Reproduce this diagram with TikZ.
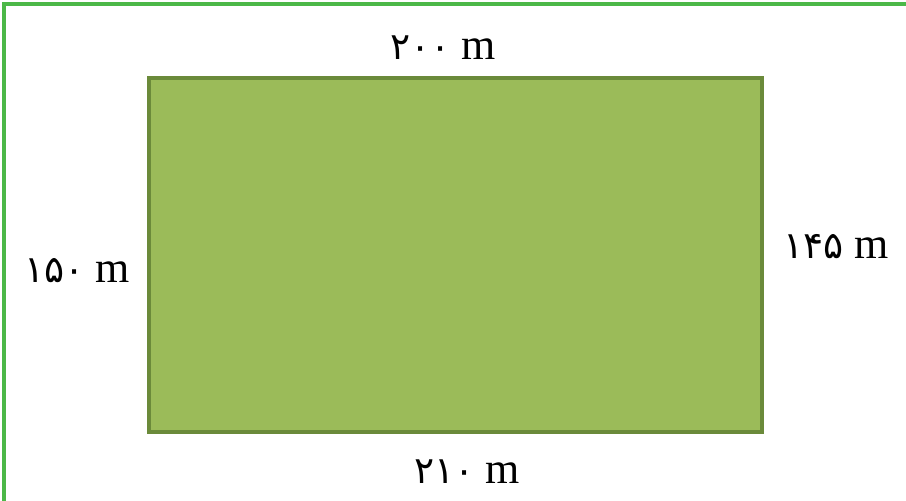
\documentclass[tikz,border=0pt]{standalone}
\usepackage{fontspec}
\setmainfont{Liberation Serif}
\newfontfamily\fadigits[Script=Arabic,Scale=0.85]{DejaVu Sans}
\definecolor{framegreen}{HTML}{4CB848}
\definecolor{fieldgreen}{HTML}{9BBB59}
\definecolor{edgegreen}{HTML}{6B8A3A}
\tikzset{side/.style={anchor=base, inner sep=0pt, font=\fontsize{44}{50}\selectfont}}

\begin{document}
\begin{tikzpicture}[x=1pt, y=-1pt]
  \useasboundingbox (0,0) rectangle (906,501);
  \draw[framegreen, line width=3.5] (4,501) -- (4,4) -- (906,4);
  \draw[edgegreen, fill=fieldgreen, line width=4] (149,78) rectangle (762,432);
  \node[side] (top) at (443,59) {{\fadigits ۲۰۰} m};
  \node[side] (left) at (77,282) {{\fadigits ۱۵۰} m};
  \node[side] (right) at (836,258) {{\fadigits ۱۴۵} m};
  \node[side] (bottom) at (467,483) {{\fadigits ۲۱۰} m};
\end{tikzpicture}
\end{document}
